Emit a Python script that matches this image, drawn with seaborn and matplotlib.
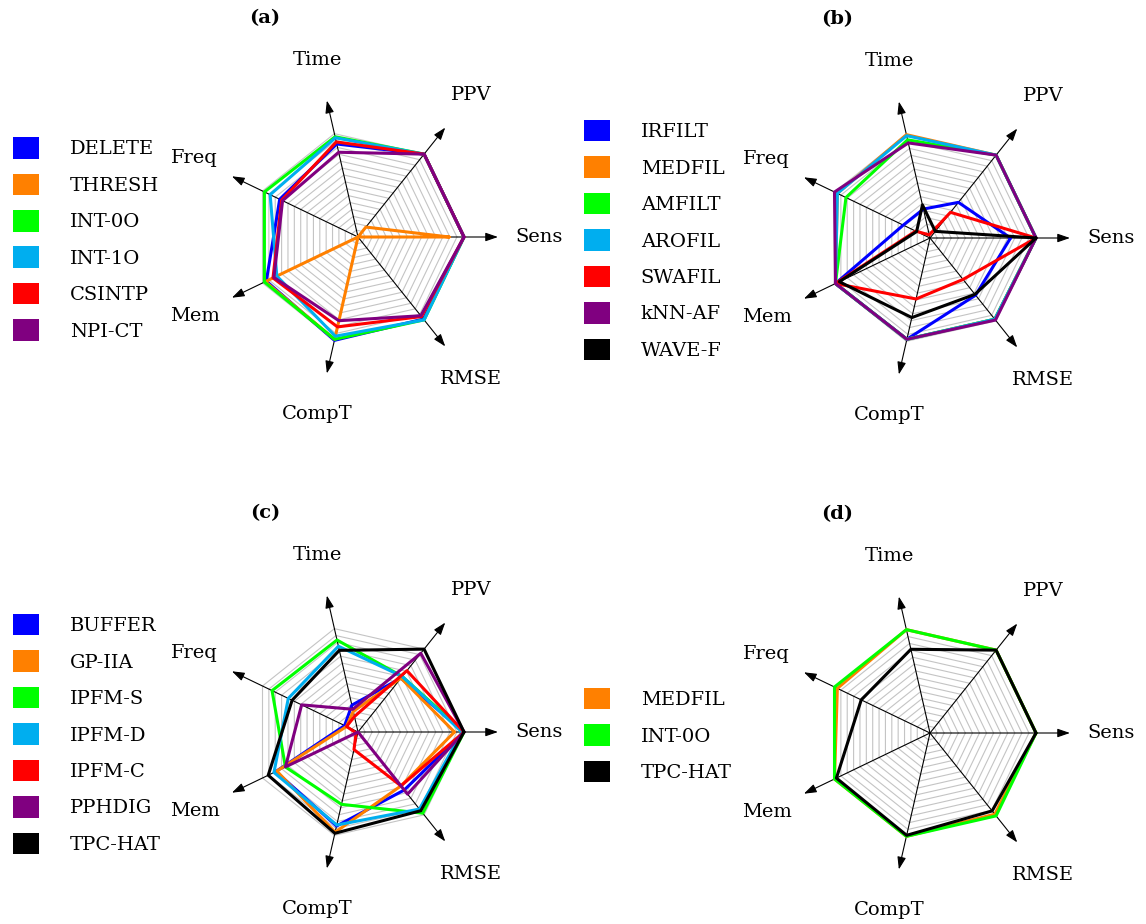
import numpy as np
import pandas as pd
import matplotlib
matplotlib.use("Agg")
import matplotlib.pyplot as plt
from matplotlib.patches import Patch
import seaborn as sns

sns.set_theme(style="white")
plt.rcParams["font.family"] = ["DejaVu Serif"]
plt.rcParams["text.color"] = "black"

# Radar axes, counter-clockwise from the right
axes_names = ["Sens", "PPV", "Time", "Freq", "Mem", "CompT", "RMSE"]

# (a) missing-data handling
a_methods = ["DELETE", "THRESH", "INT-0O", "INT-1O", "CSINTP", "NPI-CT"]
a_values = [
    [1.00, 1.00, 0.90, 0.82, 0.96, 1.00, 0.99],
    [0.86, 0.12, 0.00, 0.00, 0.97, 0.99, 0.00],
    [1.00, 1.00, 0.97, 0.98, 0.98, 0.99, 1.00],
    [1.00, 1.00, 0.96, 0.92, 0.85, 0.96, 1.00],
    [1.00, 1.00, 0.92, 0.80, 0.89, 0.87, 0.96],
    [1.00, 1.00, 0.82, 0.79, 0.88, 0.81, 0.95],
]

# (b) filtering
b_methods = ["IRFILT", "MEDFIL", "AMFILT", "AROFIL", "SWAFIL", "kNN-AF", "WAVE-F"]
b_values = [
    [0.76, 0.43, 0.28, 0.28, 0.99, 0.98, 0.69],
    [1.00, 1.00, 1.00, 0.97, 0.99, 0.98, 0.98],
    [1.00, 1.00, 0.95, 0.88, 0.99, 0.98, 0.98],
    [1.00, 1.00, 0.99, 0.97, 0.99, 0.98, 0.98],
    [1.00, 0.31, 0.03, 0.15, 0.99, 0.59, 0.50],
    [1.00, 1.00, 0.92, 1.00, 0.99, 0.98, 0.99],
    [1.00, 0.08, 0.32, 0.14, 0.95, 0.77, 0.68],
]

# (c) pulse detection
c_methods = ["BUFFER", "GP-IIA", "IPFM-S", "IPFM-D", "IPFM-C", "PPHDIG", "TPC-HAT"]
c_values = [
    [1.00, 0.65, 0.26, 0.14, 0.86, 0.91, 0.70],
    [0.91, 0.65, 0.20, 0.12, 0.85, 0.97, 0.65],
    [1.00, 0.67, 0.89, 0.90, 0.76, 0.70, 0.98],
    [0.98, 0.67, 0.83, 0.73, 0.88, 0.90, 0.93],
    [1.00, 0.74, 0.15, 0.12, 0.02, 0.17, 0.65],
    [1.00, 0.95, 0.22, 0.59, 0.76, 0.00, 0.75],
    [1.00, 1.00, 0.79, 0.69, 0.94, 0.98, 0.95],
]

# (d) best of each stage
d_methods = ["MEDFIL", "INT-0O", "TPC-HAT"]
d_values = [
    [1.00, 1.00, 1.00, 0.97, 1.00, 1.00, 0.98],
    [1.00, 1.00, 1.00, 1.00, 1.00, 1.00, 1.00],
    [1.00, 1.00, 0.81, 0.72, 0.98, 0.99, 0.94],
]

a_colors = ["#0000FF", "#FF8000", "#00FF00", "#00AEEF", "#FF0000", "#800080"]
b_colors = ["#0000FF", "#FF8000", "#00FF00", "#00AEEF", "#FF0000", "#800080", "#000000"]
c_colors = ["#0000FF", "#FF8000", "#00FF00", "#00AEEF", "#FF0000", "#800080", "#000000"]
d_colors = ["#FF8000", "#00FF00", "#000000"]

W, H = 1146, 924
R = 106.0          # px per unit radius
HALF = 1.9         # half-extent of each radar axes in data units
FS = 14

fig = plt.figure(figsize=(W / 100, H / 100), dpi=100)
fig.patch.set_facecolor("white")

n = len(axes_names)
theta = np.arange(n) * 2 * np.pi / n


def radar(cx, cy, letter, methods, values, colors, leg_x):
    size = 2 * HALF * R
    ax = fig.add_axes([(cx - size / 2) / W, (H - cy - size / 2) / H, size / W, size / H])
    ax.set_xlim(-HALF, HALF)
    ax.set_ylim(-HALF, HALF)
    ax.set_aspect("equal")
    ax.axis("off")

    # heptagonal grid rings
    ring_t = np.append(theta, theta[0])
    for lvl in np.arange(1, 16) / 15:
        ax.plot(lvl * np.cos(ring_t), lvl * np.sin(ring_t), color="#c4c4c4", lw=0.8, zorder=1)

    # spokes with arrow heads and axis labels
    for t, name in zip(theta, axes_names):
        ax.annotate("", xy=(1.32 * np.cos(t), 1.32 * np.sin(t)), xytext=(0, 0),
                    arrowprops=dict(arrowstyle="-|>,head_length=0.75,head_width=0.26",
                                    lw=0.8, color="black",
                                    mutation_scale=10, shrinkA=0, shrinkB=0),
                    zorder=2)
        ax.text(1.71 * np.cos(t), 1.71 * np.sin(t), name, ha="center", va="center",
                fontsize=FS, color="black")

    rows = []
    for m, vals in zip(methods, values):
        vv = list(vals) + [vals[0]]
        tt = list(theta) + [theta[0]]
        for k, (v, t) in enumerate(zip(vv, tt)):
            rows.append({"method": m, "k": k, "x": v * np.cos(t), "y": v * np.sin(t)})
    df = pd.DataFrame(rows)
    sns.lineplot(data=df, x="x", y="y", hue="method", hue_order=methods,
                 palette=dict(zip(methods, colors)), sort=False, estimator=None,
                 lw=2.2, legend=False, ax=ax, zorder=3)
    ax.set_xlabel("")
    ax.set_ylabel("")

    fig.text((cx - 93) / W, 1 - (cy - 219) / H, f"({letter})", ha="center", va="center",
             fontsize=FS, fontweight="bold", color="black")

    handles = [Patch(facecolor=c, edgecolor="none") for c in colors]
    leg = fig.legend(handles, methods, loc="center left",
                     bbox_to_anchor=(leg_x / W, 1 - (cy + 2) / H),
                     frameon=False, fontsize=FS, handlelength=1.32, handleheight=1.32,
                     handletextpad=1.6, labelspacing=0.77, borderpad=0, borderaxespad=0)
    for txt in leg.get_texts():
        txt.set_color("black")


radar(358, 237, "a", a_methods, a_values, a_colors, 13)
radar(930, 238, "b", b_methods, b_values, b_colors, 584)
radar(358, 732, "c", c_methods, c_values, c_colors, 13)
radar(930, 733, "d", d_methods, d_values, d_colors, 584)

fig.savefig("out.png", dpi=100, facecolor="white")
